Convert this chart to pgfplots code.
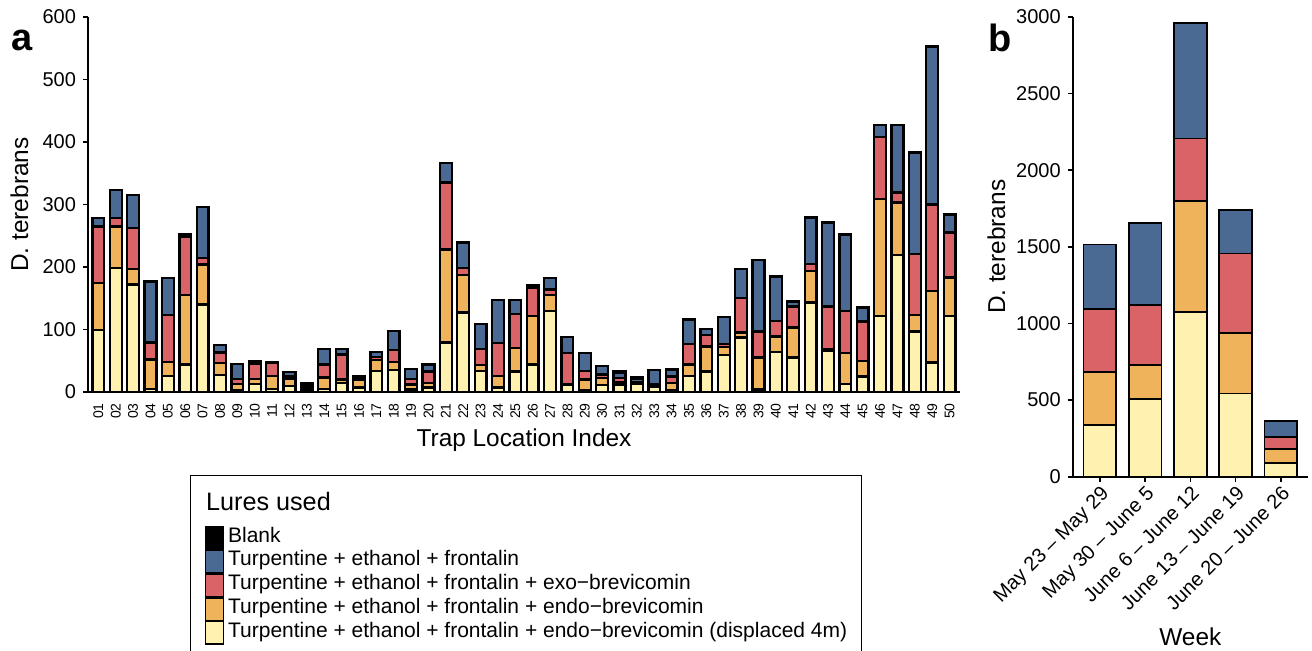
\documentclass[border=0pt]{standalone}
\usepackage{fontspec}
\setmainfont{Liberation Sans}
\usepackage{pgfplots}
\usepackage{pgfplotstable}
\pgfplotsset{compat=1.18}
\definecolor{cY}{HTML}{FFF1AF}
\definecolor{cO}{HTML}{EEB35B}
\definecolor{cR}{HTML}{D96366}
\definecolor{cB}{HTML}{4A6A94}
\pgfplotsset{leg/.style={legend image code/.code={\draw[##1,line width=0.7pt] (0pt,-5.6pt) rectangle (9pt,5.6pt);}}}

\pgfplotstableread{
x Y O R B K
1 99 75 91 13 0
2 198 67 13 45 0
3 172 25 65 53 0
4 5 47 27 98 0
5 26 22 75 59 0
6 44 111 93 3 2
7 140 64 10 82 0
8 27 19 17 12 0
9 3 10 8 24 0
10 13 8 24 1 3
11 5 21 21 1 0
12 10 11 4 7 0
13 4 0 0 0 10
14 5 18 21 25 0
15 14 6 40 9 0
16 7 12 1 2 3
17 34 17 5 8 0
18 35 13 19 31 0
19 4 8 9 16 0
20 7 7 19 11 0
21 79 149 107 31 0
22 127 60 11 41 0
23 34 9 26 40 0
24 7 19 52 69 0
25 33 37 55 22 0
26 44 78 45 2 2
27 130 25 9 18 0
28 11 1 50 26 0
29 3 17 14 28 0
30 11 11 6 14 0
31 12 4 6 9 2
32 13 1 1 6 2
33 8 2 3 22 0
34 3 11 11 11 0
35 26 18 33 39 0
36 33 40 18 10 0
37 59 13 5 43 0
38 87 8 55 47 0
39 4 51 42 114 0
40 64 25 25 71 0
41 55 48 34 8 0
42 143 51 11 74 0
43 66 2 69 134 0
44 13 49 68 122 0
45 25 25 63 22 0
46 122 187 99 19 0
47 219 84 16 108 0
48 97 26 98 162 0
49 47 115 138 253 0
50 122 61 72 29 0
}\dataA

\pgfplotstableread{
x Y O R B
1 335 350 408 422
2 507 221 392 537
3 1076 722 409 754
4 543 396 518 282
5 91 89 81 102
}\dataB

\begin{document}
\begin{tikzpicture}
\useasboundingbox (0,0) rectangle (656pt,-325pt);
\begin{axis}[
  at={(44pt,-196pt)}, anchor=south west,
  scale only axis, width=436pt, height=187.5pt,
  ybar stacked, bar width=0.68,
  xmin=0.4, xmax=50.6, ymin=0, ymax=600,
  axis lines*=left,
  axis line style={line width=0.9pt, black},
  tick align=outside, major tick length=2.5pt,
  xtick={1,...,50},
  xticklabels={01,02,03,04,05,06,07,08,09,10,11,12,13,14,15,16,17,18,19,20,21,22,23,24,25,26,27,28,29,30,31,32,33,34,35,36,37,38,39,40,41,42,43,44,45,46,47,48,49,50},
  xtick style={draw=none},
  xticklabel style={rotate=90, anchor=east, font=\fontsize{7}{7}\selectfont, inner sep=3pt},
  ytick={0,100,...,600},
  ytick style={line width=0.8pt, black},
  yticklabel style={font=\fontsize{10}{10}\selectfont},
  /pgf/number format/assume math mode=true,
  every axis y label/.style={at={(axis description cs:-0.0688,0.5)}, rotate=90, anchor=base, inner sep=0pt, font=\fontsize{12.2}{13}\selectfont},
  every axis x label/.style={at={(axis description cs:0.5,-0.1459)}, anchor=base, inner sep=0pt, font=\fontsize{12.2}{13}\selectfont},
  ylabel={D. terebrans},
  xlabel={Trap Location Index},
  reverse legend,
  legend cell align=left,
  legend style={at={(axis description cs:0.117,-0.2213)}, anchor=north west,
    draw=black, line width=0.7pt, inner xsep=7pt, inner ysep=9.5pt,
    row sep=0pt, column sep=2pt,
    font=\fontsize{10.5}{11.5}\selectfont,
    nodes={inner sep=0pt, text height=8pt, text depth=3.5pt}},
]
\addplot[fill=cY, draw=black, line width=1.15pt, leg] table[x=x,y=Y] {\dataA};
\addlegendentry{Turpentine + ethanol + frontalin + endo−brevicomin (displaced 4m)}
\addplot[fill=cO, draw=black, line width=1.15pt, leg] table[x=x,y=O] {\dataA};
\addlegendentry{Turpentine + ethanol + frontalin + endo−brevicomin}
\addplot[fill=cR, draw=black, line width=1.15pt, leg] table[x=x,y=R] {\dataA};
\addlegendentry{Turpentine + ethanol + frontalin + exo−brevicomin}
\addplot[fill=cB, draw=black, line width=1.15pt, leg] table[x=x,y=B] {\dataA};
\addlegendentry{Turpentine + ethanol + frontalin}
\addplot[fill=black, draw=black, line width=1.15pt, leg] table[x=x,y=K] {\dataA};
\addlegendentry{Blank}
\addlegendimage{empty legend}
\addlegendentry[text depth=7.5pt]{\hspace*{-11pt}\fontsize{12.6}{13}\selectfont Lures used}
\end{axis}

\begin{axis}[
  at={(536.35pt,-238.35pt)}, anchor=south west,
  scale only axis, width=117.65pt, height=229.85pt,
  ybar stacked, bar width=0.72,
  xmin=0.4, xmax=5.6, ymin=0, ymax=3000,
  axis lines*=left,
  axis line style={line width=0.9pt, black},
  tick align=outside, major tick length=2.5pt,
  tick style={line width=0.8pt, black},
  xtick={1,...,5},
  xticklabels={May 23 – May 29, May 30 – June 5, June 6 – June 12, June 13 – June 19, June 20 – June 26},
  xticklabel style={rotate=45, anchor=north east, font=\fontsize{10}{10}\selectfont, inner sep=1pt},
  ytick={0,500,...,3000},
  yticklabel style={font=\fontsize{10}{10}\selectfont},
  /pgf/number format/assume math mode=true,
  /pgf/number format/set thousands separator={},
  every axis y label/.style={at={(axis description cs:-0.2877,0.5)}, rotate=90, anchor=base, inner sep=0pt, font=\fontsize{12.2}{13}\selectfont},
  every axis x label/.style={at={(axis description cs:0.5,-0.3661)}, anchor=base, inner sep=0pt, font=\fontsize{12.2}{13}\selectfont},
  ylabel={D. terebrans},
  xlabel={Week},
]
\addplot[fill=cY, draw=black, line width=0.9pt] table[x=x,y=Y] {\dataB};
\addplot[fill=cO, draw=black, line width=0.9pt] table[x=x,y=O] {\dataB};
\addplot[fill=cR, draw=black, line width=0.9pt] table[x=x,y=R] {\dataB};
\addplot[fill=cB, draw=black, line width=0.9pt] table[x=x,y=B] {\dataB};
\end{axis}

\node[anchor=base, font=\fontsize{19}{19}\selectfont\bfseries] at (10.8pt,-25pt) {a};
\node[anchor=base, font=\fontsize{19}{19}\selectfont\bfseries] at (500pt,-25.5pt) {b};
\end{tikzpicture}
\end{document}
